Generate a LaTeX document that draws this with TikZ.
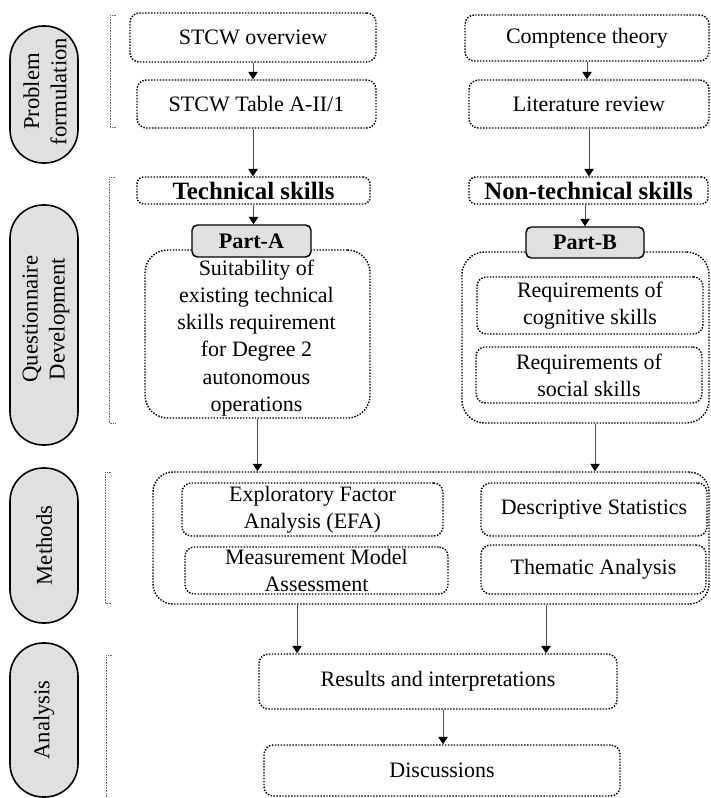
\documentclass[tikz,border=0pt]{standalone}
\usepackage{fontspec}
\setmainfont{Liberation Serif}
\usetikzlibrary{arrows.meta,calc}
\definecolor{pillgray}{HTML}{E0E0E0}
\tikzset{
  txt/.style={font=\fontsize{16.5}{20.3}\selectfont},
  ptxt/.style={font=\fontsize{17}{20.3}\selectfont,align=center,rotate=90},
  sbox/.style={txt,draw=black,line width=1.1pt,dash pattern=on 1.1pt off 1.1pt,rounded corners=7pt,align=center,inner sep=0pt},
  obox/.style={sbox,rounded corners=17pt},
  hbox/.style={sbox,rounded corners=5pt,font=\fontsize{18.7}{21}\selectfont\bfseries},
  pbox/.style={draw=black,line width=1.1pt,fill=pillgray,rounded corners=4pt,font=\fontsize{16.6}{20}\selectfont\bfseries,inner sep=0pt},
  pill/.style={draw=black,line width=1.2pt,fill=pillgray,rounded corners=25pt,inner sep=0pt},
  arr/.style={draw=black!70,line width=0.75pt,-{Triangle[width=7pt,length=5.5pt,black]}},
  brk/.style={draw=black!60,line width=0.6pt,dash pattern=on 0.6pt off 0.6pt}
}
\begin{document}
\begin{tikzpicture}[x=0.75pt,y=-0.75pt]
\useasboundingbox (0,0) rectangle (710,798);

% side pills
\node[pill,minimum width=51pt,minimum height=102.75pt] (p1) at (44,94.5) {};
\node[ptxt] (p1t) at ($(p1)+(1,-3)$) {Problem\\formulation};
\node[pill,minimum width=51pt,minimum height=180pt] (p2) at (44,325) {};
\node[ptxt] (p2t) at ($(p2)+(2,-6)$) {Questionnaire\\Development};
\node[pill,minimum width=51pt,minimum height=116.25pt] (p3) at (44,545.5) {};
\node[ptxt] (p3t) at (p3) {Methods};
\node[pill,minimum width=51pt,minimum height=115.5pt] (p4) at (44,720) {};
\node[ptxt] (p4t) at (p4) {Analysis};

% brackets
\draw[brk] (116,15) -- (110,15) -- (110,127) -- (116,127);
\draw[brk] (115,177) -- (109,177) -- (109,423) -- (115,423);
\draw[brk] (111,472) -- (105,472) -- (105,603) -- (111,603);
\draw[brk] (112,655) -- (106,655) -- (106,800);

% problem formulation
\node[sbox,minimum width=184.5pt,minimum height=36.75pt] (ov) at (253,37.5) {STCW overview};
\node[sbox,minimum width=179.25pt,minimum height=36pt] (tab) at (256.5,104) {STCW Table A-II/1};
\node[sbox,minimum width=183pt,minimum height=34.5pt] (ct) at (587,38) {Comptence theory};
\node[sbox,minimum width=180pt,minimum height=36pt] (lr) at (589,104) {Literature review};

% questionnaire
\node[hbox,minimum width=174.75pt,minimum height=20.25pt] (tech) at (253.5,190.5) {Technical skills};
\node[hbox,minimum width=179.25pt,minimum height=20.25pt] (ntech) at (588.5,190.5) {Non-technical skills};
\node[obox,minimum width=168.75pt,minimum height=126pt] (pao) at (257.5,334) {};
\node[txt,align=center,inner sep=0pt] (pat) at ($(pao)+(-1,4)$) {Suitability of\\existing technical\\skills requirement\\for Degree 2\\autonomous\\operations};
\node[pbox,minimum width=89.25pt,minimum height=24pt] (pa) at (251.5,241) {Part-A};
\node[obox,minimum width=185.25pt,minimum height=128.25pt] (pbo) at (585.5,337.5) {};
\node[pbox,minimum width=88.5pt,minimum height=23.25pt] (pb) at (585,242.5) {Part-B};
\node[sbox,minimum width=169.5pt,minimum height=42.75pt] (cog) at (590,305.5) {Requirements of\\cognitive skills};
\node[sbox,minimum width=169.5pt,minimum height=42pt] (soc) at (589,375) {Requirements of\\social skills};

% methods
\node[obox,rounded corners=15pt,minimum width=417pt,minimum height=99pt] (meth) at (431,538) {};
\node[sbox,minimum width=195.75pt,minimum height=39.75pt] (efa) at (312.5,509.5) {Exploratory Factor\\Analysis (EFA)};
\node[sbox,minimum width=197.25pt,minimum height=35.25pt] (mma) at (316.5,570.5) {Measurement Model\\Assessment};
\node[sbox,minimum width=169.5pt,minimum height=39.75pt] (ds) at (594,509.5) {Descriptive Statistics};
\node[sbox,minimum width=168.75pt,minimum height=36.75pt] (ta) at (593.5,569.5) {Thematic Analysis};

% analysis
\node[sbox,minimum width=268.5pt,minimum height=41.25pt] (res) at (438,681.5) {Results and interpretations};
\node[sbox,minimum width=267pt,minimum height=38.25pt] (dis) at (442,770.5) {Discussions};

% connectors
\draw[arr] (ov.south) -- (ov.south |- tab.north);
\draw[arr] (ct.south) -- (ct.south |- lr.north);
\draw[arr] (tab.south -| ov.south) -- (ov.south |- tech.north);
\draw[arr] (lr.south) -- (lr.south |- ntech.north);
\draw[arr] (tech.south) -- (tech.south |- pa.north);
\draw[arr] (pb.north |- ntech.south) -- (pb.north);
\draw[arr] (pao.south) -- (pao.south |- meth.north);
\coordinate (bdown) at ($(pbo.south)+(9.5,0)$);
\draw[arr] (bdown) -- (bdown |- meth.north);
\coordinate (m1) at ($(meth.south)+(-134,0)$);
\coordinate (m2) at ($(meth.south)+(115,0)$);
\draw[arr] (m1) -- (m1 |- res.north);
\draw[arr] (m2) -- (m2 |- res.north);
\coordinate (r1) at ($(res.south)+(5,0)$);
\draw[arr] (r1) -- (r1 |- dis.north);
\end{tikzpicture}
\end{document}
